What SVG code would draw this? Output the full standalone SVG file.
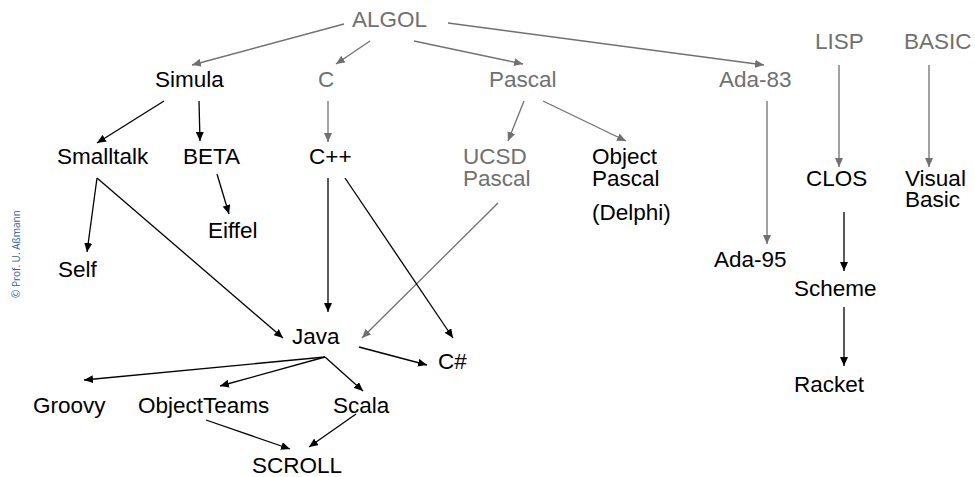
<svg xmlns="http://www.w3.org/2000/svg" width="975" height="477" viewBox="0 0 975 477">
<defs>
<style>
.t{font-family:"Liberation Sans",Arial,sans-serif;font-size:22.5px;fill:#000}
.g{fill:#707070}
.e{fill:none;stroke:#000;stroke-width:1.3}
.eg{fill:none;stroke:#707070;stroke-width:1.3}
.cr{font-family:"Open Sans","Liberation Sans",sans-serif;font-size:10px;fill:#2f5f8f}
</style>
<marker id="ab" markerWidth="9" markerHeight="8" refX="9" refY="4" orient="auto" markerUnits="userSpaceOnUse"><path d="M0,0 L9,4 L0,8 Z" fill="#000"/></marker>
<marker id="ag" markerWidth="9" markerHeight="8" refX="9" refY="4" orient="auto" markerUnits="userSpaceOnUse"><path d="M0,0 L9,4 L0,8 Z" fill="#707070"/></marker>
</defs>
<rect width="975" height="477" fill="#fff"/>
<text class="cr" transform="translate(20,298) rotate(-90)">© Prof. U. Aßmann</text>
<g id="connectors">
<line class="eg" x1="344" y1="24" x2="192" y2="65" marker-end="url(#ag)"/>
<line class="eg" x1="370" y1="41" x2="336" y2="64" marker-end="url(#ag)"/>
<line class="eg" x1="414" y1="41" x2="523" y2="64" marker-end="url(#ag)"/>
<line class="eg" x1="448" y1="23" x2="764" y2="65" marker-end="url(#ag)"/>
<line class="eg" x1="524" y1="101" x2="508" y2="141" marker-end="url(#ag)"/>
<line class="eg" x1="543" y1="101" x2="626" y2="141" marker-end="url(#ag)"/>
<line class="eg" x1="328" y1="101" x2="328" y2="142" marker-end="url(#ag)"/>
<line class="eg" x1="767" y1="101" x2="767" y2="244" marker-end="url(#ag)"/>
<line class="eg" x1="839" y1="65" x2="839" y2="167" marker-end="url(#ag)"/>
<line class="eg" x1="929" y1="65" x2="929" y2="167" marker-end="url(#ag)"/>
<line class="eg" x1="498" y1="203" x2="362" y2="338" marker-end="url(#ag)"/>
<line class="e" x1="164" y1="101" x2="97" y2="143" marker-end="url(#ab)"/>
<line class="e" x1="199" y1="101" x2="200" y2="141" marker-end="url(#ab)"/>
<line class="e" x1="217" y1="174" x2="229" y2="214" marker-end="url(#ab)"/>
<line class="e" x1="97" y1="178" x2="87" y2="252" marker-end="url(#ab)"/>
<line class="e" x1="97" y1="178" x2="283" y2="338" marker-end="url(#ab)"/>
<line class="e" x1="328" y1="178" x2="328" y2="312" marker-end="url(#ab)"/>
<line class="e" x1="345" y1="178" x2="453" y2="338" marker-end="url(#ab)"/>
<line class="e" x1="359" y1="347" x2="427" y2="365" marker-end="url(#ab)"/>
<line class="e" x1="325" y1="357" x2="84" y2="380" marker-end="url(#ab)"/>
<line class="e" x1="325" y1="357" x2="220" y2="386" marker-end="url(#ab)"/>
<line class="e" x1="325" y1="357" x2="363" y2="391" marker-end="url(#ab)"/>
<line class="e" x1="206" y1="420" x2="290" y2="449" marker-end="url(#ab)"/>
<line class="e" x1="356" y1="414" x2="309" y2="447" marker-end="url(#ab)"/>
<line class="e" x1="844" y1="212" x2="844" y2="271" marker-end="url(#ab)"/>
<line class="e" x1="844" y1="307" x2="844" y2="366" marker-end="url(#ab)"/>
</g>
<g id="algol"><text class="t g" x="352" y="27">ALGOL</text></g>
<g id="simula"><text class="t" x="155" y="87">Simula</text></g>
<g id="c"><text class="t g" x="318" y="87">C</text></g>
<g id="pascal"><text class="t g" x="489" y="87">Pascal</text></g>
<g id="ada83"><text class="t g" x="719" y="87">Ada-83</text></g>
<g id="lisp"><text class="t g" x="815" y="49">LISP</text></g>
<g id="basic"><text class="t g" x="904" y="49">BASIC</text></g>
<g id="smalltalk"><text class="t" x="57" y="164">Smalltalk</text></g>
<g id="beta"><text class="t" x="183" y="164">BETA</text></g>
<g id="cpp"><text class="t" x="309" y="164">C++</text></g>
<g id="ucsd"><text class="t g" x="463" y="164">UCSD</text><text class="t g" x="463" y="186">Pascal</text></g>
<g id="objpascal"><text class="t" x="592" y="164">Object</text><text class="t" x="592" y="186">Pascal</text><text class="t" x="592" y="220">(Delphi)</text></g>
<g id="clos"><text class="t" x="806" y="186">CLOS</text></g>
<g id="visualbasic"><text class="t" x="905" y="186">Visual</text><text class="t" x="905" y="207">Basic</text></g>
<g id="eiffel"><text class="t" x="208" y="238">Eiffel</text></g>
<g id="self"><text class="t" x="58" y="277">Self</text></g>
<g id="ada95"><text class="t" x="714" y="267">Ada-95</text></g>
<g id="scheme"><text class="t" x="794" y="296">Scheme</text></g>
<g id="java"><text class="t" x="292" y="344">Java</text></g>
<g id="csharp"><text class="t" x="438" y="369">C#</text></g>
<g id="racket"><text class="t" x="794" y="392">Racket</text></g>
<g id="groovy"><text class="t" x="33" y="413">Groovy</text></g>
<g id="objectteams"><text class="t" x="138" y="413">ObjectTeams</text></g>
<g id="scala"><text class="t" x="333" y="413">Scala</text></g>
<g id="scroll"><text class="t" x="252" y="473">SCROLL</text></g>
</svg>
